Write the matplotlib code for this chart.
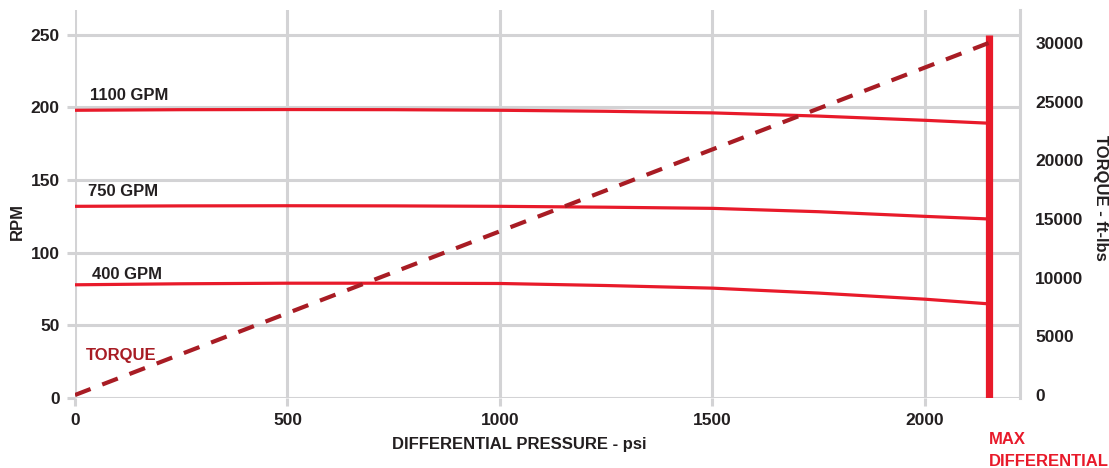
import matplotlib.pyplot as plt

plt.rcParams['font.family'] = ['Liberation Sans', 'DejaVu Sans']
plt.rcParams['font.weight'] = 'bold'

# differential pressure (psi)
psi = [0, 250, 500, 750, 1000, 1250, 1500, 1750, 2000, 2150]
# rpm per flow rate
rpm_1100 = [198.0, 198.4, 198.5, 198.4, 198.0, 197.3, 196.2, 194.0, 191.1, 189.1]
rpm_750 = [131.9, 132.2, 132.3, 132.2, 131.9, 131.3, 130.5, 128.2, 125.0, 123.2]
rpm_400 = [77.9, 78.6, 79.0, 79.0, 78.8, 77.4, 75.6, 72.2, 68.0, 64.8]
# torque (ft-lbs)
torque_psi = [0, 2150]
torque = [0, 30000]
max_diff = 2150

red = '#E81A2A'
dark_red = '#A81C24'
grid_c = '#D3D3D5'
txt_c = '#231F20'

fig = plt.figure(figsize=(11.09, 4.68), dpi=100)
ax = fig.add_axes([75 / 1109, 1 - 398 / 468, (1020 - 75) / 1109, (398 - 10) / 468])

ax.plot(psi, rpm_1100, color=red, lw=2.3, solid_capstyle='butt', zorder=3)
ax.plot(psi, rpm_750, color=red, lw=2.3, solid_capstyle='butt', zorder=3)
ax.plot(psi, rpm_400, color=red, lw=2.3, solid_capstyle='butt', zorder=3)
ax.vlines(max_diff, 0, 250, colors=red, lw=5.2, zorder=4)

ax.set_xlim(0, 2224)
ax.set_ylim(0, 267)
ax.set_xticks([0, 500, 1000, 1500, 2000])
ax.set_yticks([0, 50, 100, 150, 200, 250])
ax.grid(True, color=grid_c, lw=2.2)
ax.set_axisbelow(True)
for s in ['top', 'left', 'bottom']:
    ax.spines[s].set_visible(False)
ax.spines['right'].set_color(grid_c)
ax.spines['right'].set_linewidth(2.2)
ax.tick_params(axis='both', colors=grid_c, width=2.2, length=6, labelsize=12.5,
               labelcolor=txt_c, pad=5)
ax.tick_params(axis='y', right=True)
for lab in ax.get_xticklabels() + ax.get_yticklabels():
    lab.set_fontweight('bold')
ax.set_xlabel('DIFFERENTIAL PRESSURE - psi', fontsize=12, fontweight='bold', color=txt_c, labelpad=6)
ax.xaxis.label.set_x(0.47)
ax.set_ylabel('RPM', fontsize=12, fontweight='bold', color=txt_c)
ax.yaxis.set_label_coords(-0.053, 0.454)

ax.text(35, 205, '1100 GPM', fontsize=12, fontweight='bold', color=txt_c)
ax.text(30, 139, '750 GPM', fontsize=12, fontweight='bold', color=txt_c)
ax.text(40, 82, '400 GPM', fontsize=12, fontweight='bold', color=txt_c)
ax.text(25, 26, 'TORQUE', fontsize=12, fontweight='bold', color=dark_red)
ax.text(max_diff, -23.5, 'MAX\nDIFFERENTIAL', fontsize=12, fontweight='bold', color=red,
        va='top', ha='left', linespacing=1.55, clip_on=False)

ax2 = ax.twinx()
ax2.plot(torque_psi, torque, color=dark_red, lw=3, dashes=(4, 3), zorder=3)
ax2.set_ylim(-256, 32813)
ax2.set_yticks([0, 5000, 10000, 15000, 20000, 25000, 30000])
for s in ax2.spines.values():
    s.set_visible(False)
ax2.tick_params(axis='y', length=0, pad=11, labelsize=12.5, labelcolor=txt_c)
for lab in ax2.get_yticklabels():
    lab.set_fontweight('bold')
ax2.set_ylabel('TORQUE - ft-lbs', rotation=-90, fontsize=12, fontweight='bold', color=txt_c)
ax2.yaxis.set_label_coords(1.093, 0.515)

fig.savefig('out.png', dpi=100)
